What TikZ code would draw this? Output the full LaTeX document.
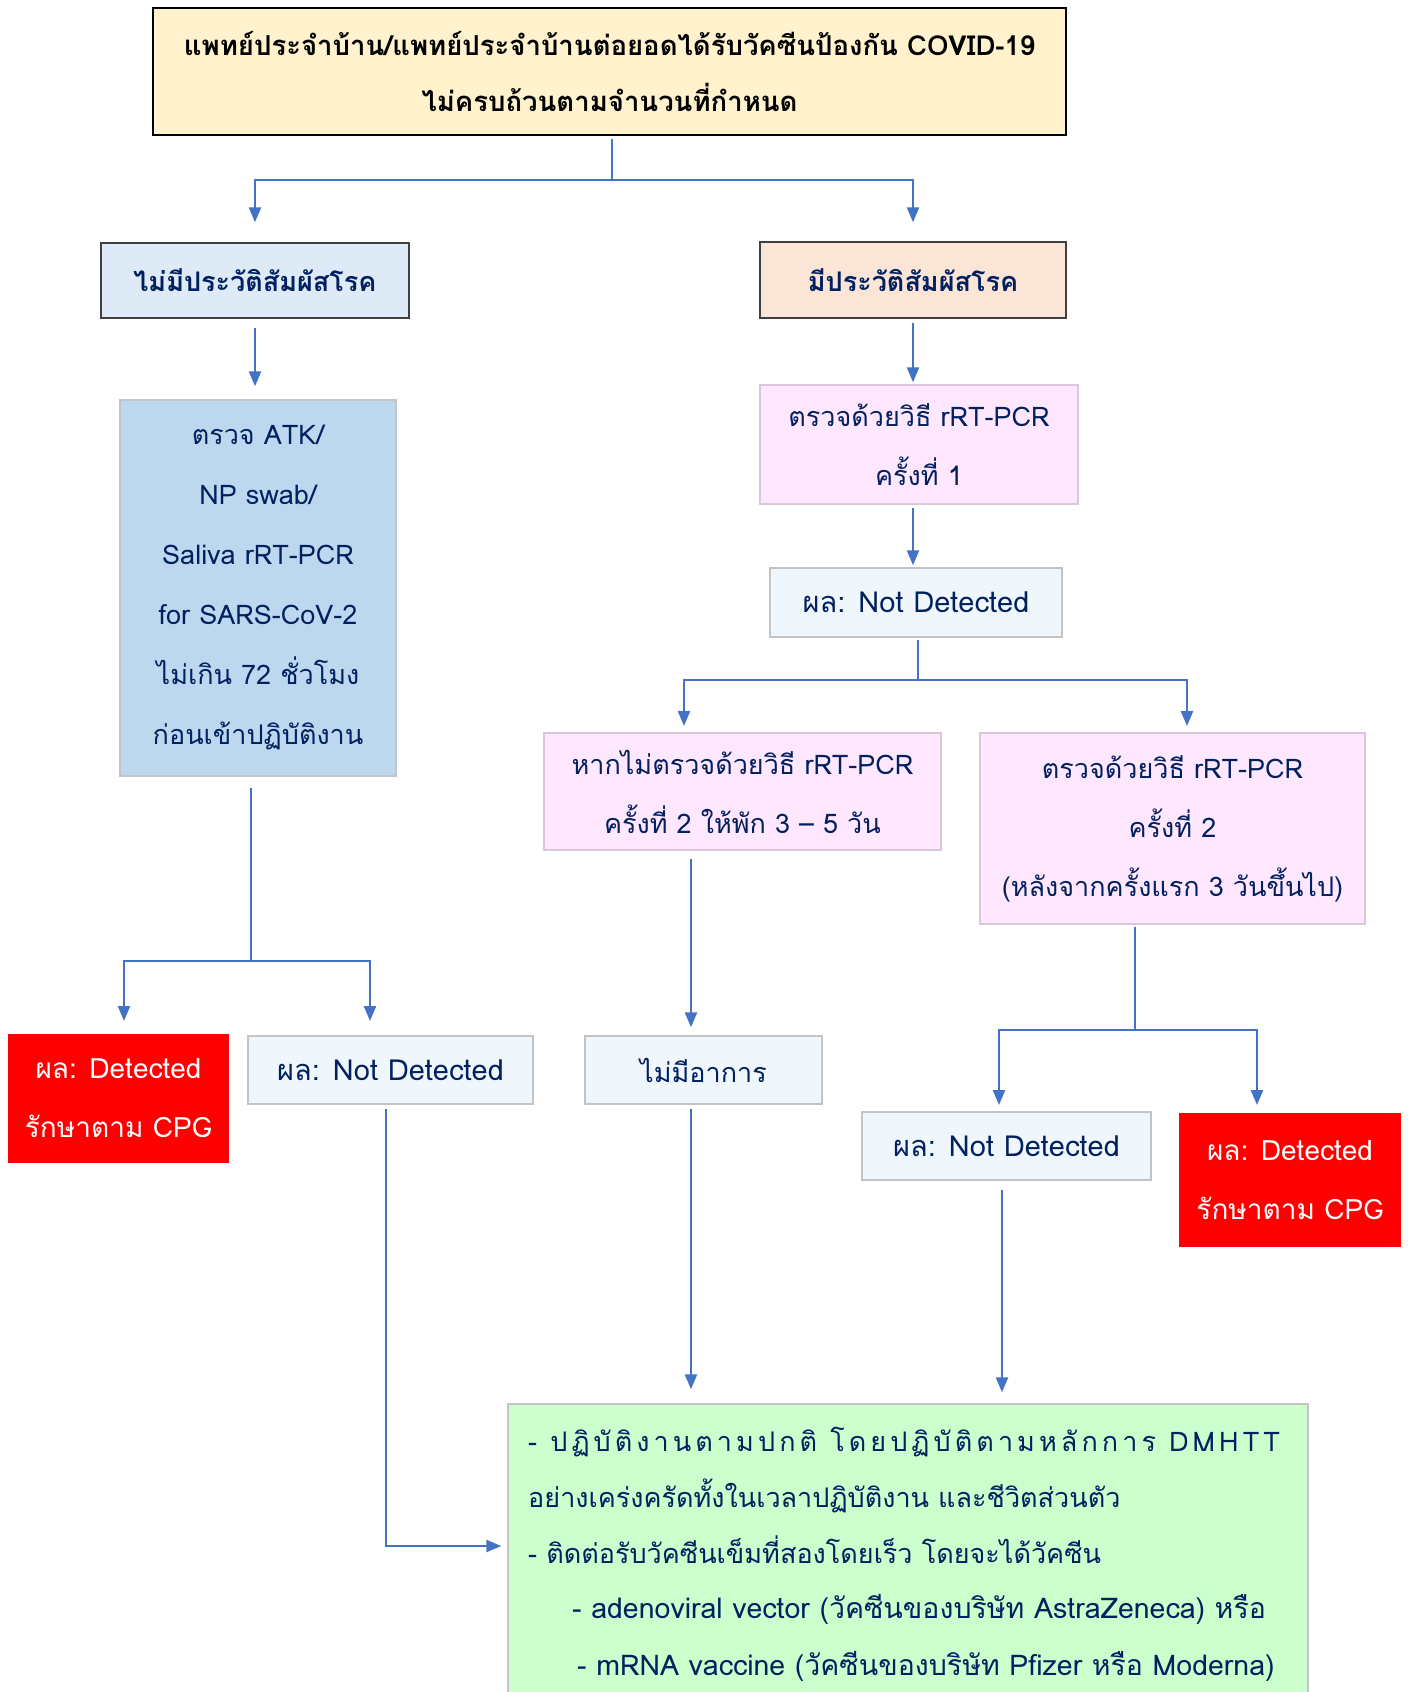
\documentclass[tikz,border=0pt]{standalone}
\usepackage{fontspec}
\setmainfont[Script=Thai]{Loma}
\usetikzlibrary{arrows.meta}
\definecolor{navy}{HTML}{002060}
\definecolor{arrowblue}{HTML}{4472C4}
\definecolor{topfill}{HTML}{FFF2CC}
\definecolor{nohfill}{HTML}{DEEBF7}
\definecolor{hfill}{HTML}{FBE5D6}
\definecolor{atkfill}{HTML}{BDD7EE}
\definecolor{pinkfill}{HTML}{FFE7FF}
\definecolor{pinkline}{HTML}{D8C8D8}
\definecolor{ndfill}{HTML}{EFF7FD}
\definecolor{greyline}{HTML}{C4C4C4}
\definecolor{greenfill}{HTML}{CCFFCC}
\definecolor{darkline}{HTML}{404040}
\begin{document}
\begin{tikzpicture}[x=1pt,y=-1pt,
  box/.style={rectangle, inner sep=0pt, align=center, text=navy, line width=1.4pt,
    font=\fontsize{27}{59}\selectfont},
  topbox/.style={box, draw=black, fill=topfill, text=black, font=\bfseries\fontsize{27.5}{56}\selectfont},
  headbox/.style={box, draw=darkline, fill=#1, font=\bfseries\fontsize{27}{59}\selectfont},
  lightbox/.style={box, draw=greyline, fill=ndfill, font=\fontsize{29}{59}\selectfont},
  pinkbox/.style={box, draw=pinkline, fill=pinkfill},
  redbox/.style={box, draw=none, fill=red, text=white, font=\fontsize{28}{59}\selectfont},
  greenbox/.style={box, draw=greyline, fill=greenfill},
  gtext/.style={anchor=base west, inner sep=0pt, text=navy, font=\fontsize{27}{56}\selectfont},
  ln/.style={draw=arrowblue, line width=2.3pt},
  arr/.style={ln, -{Triangle[length=15pt,width=12pt]}},
]
\useasboundingbox (0,0) rectangle (1408,1692);

% boxes
\node[topbox, minimum width=913pt, minimum height=127pt] (top) at (609.5,71.5)
  {แพทย์ประจำบ้าน/แพทย์ประจำบ้านต่อยอดได้รับวัคซีนป้องกัน COVID-19\\ไม่ครบถ้วนตามจำนวนที่กำหนด};
\node[headbox=nohfill, minimum width=308pt, minimum height=75pt] (noH) at (255,280.5) {ไม่มีประวัติสัมผัสโรค};
\node[headbox=hfill, minimum width=306pt, minimum height=76pt] (H) at (913,280) {มีประวัติสัมผัสโรค};
\node[box, draw=greyline, fill=atkfill, minimum width=276pt, minimum height=376pt, font=\fontsize{27}{60}\selectfont] (atk) at (258,588)
  {ตรวจ ATK/\\NP swab/\\Saliva rRT-PCR\\for SARS-CoV-2\\ไม่เกิน 72 ชั่วโมง\\ก่อนเข้าปฏิบัติงาน};
\node[pinkbox, minimum width=318pt, minimum height=119pt] (pcr1) at (919,444.5) {ตรวจด้วยวิธี rRT-PCR\\ครั้งที่ 1};
\node[lightbox, minimum width=292pt, minimum height=69pt] (nd1) at (916,602.5) {ผล: Not Detected};
\node[pinkbox, minimum width=397pt, minimum height=117pt] (pcrL) at (742.5,791.5) {หากไม่ตรวจด้วยวิธี rRT-PCR\\ครั้งที่ 2 ให้พัก 3 – 5 วัน};
\node[pinkbox, minimum width=385pt, minimum height=191pt] (pcrR) at (1172.5,828.5) {ตรวจด้วยวิธี rRT-PCR\\ครั้งที่ 2\\(หลังจากครั้งแรก 3 วันขึ้นไป)};
\node[redbox, minimum width=221pt, minimum height=129pt] (detL) at (118.5,1098.5) {ผล: Detected\\รักษาตาม CPG};
\node[lightbox, minimum width=285pt, minimum height=68pt] (ndL) at (390.5,1070) {ผล: Not Detected};
\node[lightbox, minimum width=237pt, minimum height=68pt, font=\fontsize{27}{59}\selectfont] (nosym) at (703.5,1070) {ไม่มีอาการ};
\node[lightbox, minimum width=289pt, minimum height=68pt] (ndR) at (1006.5,1146) {ผล: Not Detected};
\node[redbox, minimum width=222pt, minimum height=134pt] (detR) at (1290,1180) {ผล: Detected\\รักษาตาม CPG};
\node[greenbox, minimum width=800pt, minimum height=296pt] (green) at (908,1552) {};

% green text
\node[gtext] (g1) at (528,1451) {\addfontfeature{LetterSpace=15}- ปฏิบัติงานตามปกติ โดยปฏิบัติตามหลักการ DMHTT};
\node[gtext] (g2) at (528,1507) {อย่างเคร่งครัดทั้งในเวลาปฏิบัติงาน และชีวิตส่วนตัว};
\node[gtext] (g3) at (528,1563) {- ติดต่อรับวัคซีนเข็มที่สองโดยเร็ว โดยจะได้วัคซีน};
\node[gtext, font=\fontsize{28.5}{56}\selectfont] (g4) at (572,1618) {- adenoviral vector (วัคซีนของบริษัท AstraZeneca) หรือ};
\node[gtext, font=\fontsize{28.5}{56}\selectfont] (g5) at (577,1675) {- mRNA vaccine (วัคซีนของบริษัท Pfizer หรือ Moderna)};

% junction coordinates
\coordinate (j1) at (612,180);
\coordinate (j2) at (918,680);
\coordinate (a2L) at (684,726);
\coordinate (a2R) at (1187,726);
\coordinate (j3) at (251,961);
\coordinate (a3L) at (124,1021);
\coordinate (a3R) at (370,1021);
\coordinate (c691) at (691,0);
\coordinate (j4) at (1135,1030);
\coordinate (a4L) at (999,1105);
\coordinate (a4R) at (1257,1105);
\coordinate (c1002) at (1002,0);
\coordinate (c386) at (386,1546);

% connectors
\draw[ln, shorten <=3pt] (top.south -| j1) -- (j1);
\draw[arr, shorten >=20pt] (j1) -| (noH.north);
\draw[arr, shorten >=19pt] (j1) -| (H.north);
\draw[arr, shorten <=9pt, shorten >=13pt] (noH.south) -- (noH.south |- atk.north);
\draw[arr, shorten <=4pt, shorten >=2pt] (H.south) -- (H.south |- pcr1.north);
\draw[arr, shorten <=3pt, shorten >=2pt] (pcr1.south -| H.south) -- (nd1.north -| H.south);
\draw[ln, shorten <=2pt] (nd1.south -| j2) -- (j2);
\draw[arr] (j2) -| (a2L);
\draw[arr] (j2) -| (a2R);
\draw[ln, shorten <=11pt] (atk.south -| j3) -- (j3);
\draw[arr] (j3) -| (a3L);
\draw[arr] (j3) -| (a3R);
\draw[arr, shorten <=8pt, shorten >=8pt] (pcrL.south -| c691) -- (nosym.north -| c691);
\draw[ln, shorten <=2pt] (pcrR.south -| j4) -- (j4);
\draw[arr] (j4) -| (a4L);
\draw[arr] (j4) -| (a4R);
\draw[arr, shorten <=4pt, shorten >=14pt] (nosym.south -| c691) -- (green.north -| c691);
\draw[arr, shorten <=9pt, shorten >=11pt] (ndR.south -| c1002) -- (green.north -| c1002);
\draw[arr, shorten <=4pt, shorten >=6pt] (ndL.south -| c386) -- (c386) -- (green.west |- c386);
\end{tikzpicture}
\end{document}
